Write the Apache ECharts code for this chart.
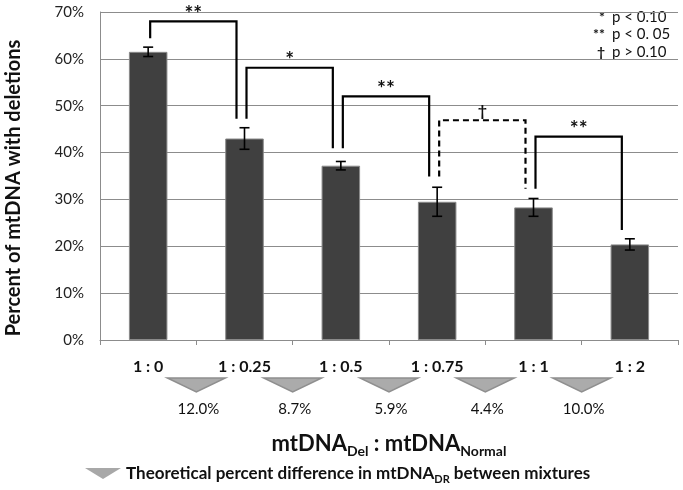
<!DOCTYPE html>
<html>
<head>
<meta charset="utf-8">
<script src="https://cdn.jsdelivr.net/npm/echarts@6/dist/echarts.min.js"></script>
<style>
html,body{margin:0;padding:0;background:#fff;}
#chart{width:683px;height:490px;}
</style>
</head>
<body>
<div id="chart"></div>
<script>
// ---- data ----
var categories = ['1 : 0', '1 : 0.25', '1 : 0.5', '1 : 0.75', '1 : 1', '1 : 2'];
var means = [61.5, 43.0, 37.2, 29.5, 28.3, 20.4];
var errors = [1.0, 2.3, 0.9, 3.1, 1.9, 1.2];
var yTicks = [0, 10, 20, 30, 40, 50, 60, 70];

var sigFrom = [0, 1, 2, 3, 4];
var sigTo = [1, 2, 3, 4, 5];
var sigTop = [68.0, 58.1, 52.0, 46.9, 43.4];
var sigLeftEnd = [64.4, 47.2, 40.9, 34.9, 32.3];
var sigRightEnd = [47.2, 40.9, 34.9, 32.3, 23.5];
var sigLabels = ['**', '*', '**', '\u2020', '**'];
var sigDashed = [0, 0, 0, 1, 0];

var diffValues = [12.0, 8.7, 5.9, 4.4, 10.0];
var diffLabels = ['12.0%', '8.7%', '5.9%', '4.4%', '10.0%'];

var keySymbols = ['*', '**', '\u2020'];
var keyTexts = ['p < 0.10', 'p < 0. 05', 'p > 0.10'];

var LEGEND_NAME = 'Theoretical percent difference in mtDNA_DR between mixtures';
var FONT = "Lato, 'Open Sans', sans-serif";

var chart = echarts.init(document.getElementById('chart'));

var errData = means.map(function (m, i) { return [i, m - errors[i], m + errors[i]]; });
var sigData = sigFrom.map(function (f, i) {
  return [f, sigTo[i], sigTop[i], sigLeftEnd[i], sigRightEnd[i], sigDashed[i]];
});
var diffData = diffValues.map(function (v, i) { return [i, v]; });

var keyGraphics = [];
keySymbols.forEach(function (s, i) {
  keyGraphics.push({
    type: 'text', x: 605, y: 17 + i * 17.5,
    style: { text: s, font: 'bold 14px ' + FONT, fill: '#111', textAlign: 'right', textVerticalAlign: 'middle' }
  });
  keyGraphics.push({
    type: 'text', x: 612, y: 17 + i * 17.5,
    style: { text: keyTexts[i], font: '15px ' + FONT, fill: '#111', textAlign: 'left', textVerticalAlign: 'middle' }
  });
});
keyGraphics.push({
  type: 'text', x: 14, y: 188,
  rotation: Math.PI / 2,
  style: {
    text: 'Percent of mtDNA with deletions',
    font: 'bold 20px ' + FONT, fill: '#111',
    textAlign: 'center', textVerticalAlign: 'middle'
  }
});

var option = {
  animation: false,
  backgroundColor: '#fff',
  grid: { left: 100, right: 5, top: 12, bottom: 150 },
  legend: {
    left: 80, top: 460,
    itemWidth: 36, itemHeight: 11,
    icon: 'path://M0,0 L20,0 L10,6 Z',
    data: [LEGEND_NAME],
    formatter: function () {
      return '{b|Theoretical percent difference in mtDNA}{s|DR}{b| between mixtures}';
    },
    textStyle: {
      rich: {
        b: { fontFamily: FONT, fontWeight: 'bold', fontSize: 17, color: '#111', lineHeight: 22 },
        s: { fontFamily: FONT, fontWeight: 'bold', fontSize: 11, color: '#111', verticalAlign: 'bottom', lineHeight: 11 }
      }
    }
  },
  xAxis: {
    type: 'category',
    data: categories,
    boundaryGap: true,
    axisLine: { lineStyle: { color: '#8c8c8c', width: 1 } },
    axisTick: { show: true, length: 5, lineStyle: { color: '#8c8c8c' } },
    axisLabel: { margin: 19, fontFamily: FONT, fontWeight: 'bold', fontSize: 16, color: '#111' },
    name: '{b|mtDNA}{s|Del}{b| : mtDNA}{s|Normal}',
    nameLocation: 'middle',
    nameGap: 90,
    nameTextStyle: {
      rich: {
        b: { fontFamily: FONT, fontWeight: 'bold', fontSize: 22, color: '#111', lineHeight: 28 },
        s: { fontFamily: FONT, fontWeight: 'bold', fontSize: 14, color: '#111', verticalAlign: 'bottom', lineHeight: 14 }
      }
    }
  },
  yAxis: {
    type: 'value',
    min: yTicks[0], max: yTicks[yTicks.length - 1], interval: 10,
    axisLine: { show: true, lineStyle: { color: '#8c8c8c' } },
    axisTick: { show: false },
    axisLabel: { margin: 16, fontFamily: FONT, fontSize: 15, color: '#222', formatter: '{value}%' },
    splitLine: { show: true, lineStyle: { color: '#8c8c8c', width: 1.2 } }
  },
  graphic: keyGraphics,
  series: [
    {
      type: 'bar',
      data: means,
      barWidth: '40%',
      itemStyle: { color: '#404040', borderColor: '#8a8a8a', borderWidth: 1 },
      z: 2
    },
    {
      type: 'custom',
      data: errData,
      z: 5,
      renderItem: function (params, api) {
        var lo = api.coord([api.value(0), api.value(1)]);
        var hi = api.coord([api.value(0), api.value(2)]);
        var x = lo[0], hw = 5;
        var st = { stroke: '#000', lineWidth: 1.6 };
        return {
          type: 'group',
          children: [
            { type: 'line', shape: { x1: x, y1: lo[1], x2: x, y2: hi[1] }, style: st },
            { type: 'line', shape: { x1: x - hw, y1: lo[1], x2: x + hw, y2: lo[1] }, style: st },
            { type: 'line', shape: { x1: x - hw, y1: hi[1], x2: x + hw, y2: hi[1] }, style: st }
          ]
        };
      }
    },
    {
      type: 'custom',
      data: sigData,
      z: 6,
      renderItem: function (params, api) {
        var i = params.dataIndex;
        var f = api.value(0), t = api.value(1);
        var top = api.coord([f, api.value(2)])[1];
        var lx = api.coord([f, 0])[0] + 2;
        var rx = api.coord([t, 0])[0] - 8;
        var ly = api.coord([f, api.value(3)])[1];
        var ry = api.coord([t, api.value(4)])[1];
        var dashed = api.value(5) === 1;
        var isStar = sigLabels[i].charAt(0) === '*';
        return {
          type: 'group',
          children: [
            {
              type: 'polyline',
              shape: { points: [[lx, ly], [lx, top], [rx, top], [rx, ry]] },
              style: { stroke: '#000', lineWidth: 2.2, fill: null, lineDash: dashed ? [6, 4] : null }
            },
            {
              type: 'text',
              x: (lx + rx) / 2, y: isStar ? top + 3 : top - 1,
              style: {
                text: sigLabels[i], font: (isStar ? 'bold 21px ' : 'bold 16px ') + FONT, fill: '#111',
                textAlign: 'center', textVerticalAlign: 'bottom'
              }
            }
          ]
        };
      }
    },
    {
      type: 'custom',
      name: LEGEND_NAME,
      data: diffData,
      itemStyle: { color: '#a8a8a8' },
      z: 6,
      renderItem: function (params, api) {
        var i = api.value(0);
        var a = api.coord([i, 0]);
        var b = api.coord([i + 1, 0]);
        var x = (a[0] + b[0]) / 2, y0 = a[1];
        return {
          type: 'group',
          children: [
            {
              type: 'polygon',
              shape: { points: [[x - 29, y0 + 38], [x + 29, y0 + 38], [x, y0 + 52]] },
              style: { fill: '#ababab', stroke: '#8f8f8f', lineWidth: 1.5 }
            },
            {
              type: 'text',
              x: x + 2, y: y0 + 69,
              style: {
                text: diffLabels[params.dataIndex], font: '15px ' + FONT, fill: '#111',
                textAlign: 'center', textVerticalAlign: 'middle'
              }
            }
          ]
        };
      }
    }
  ]
};
chart.setOption(option);
</script>
</body>
</html>
